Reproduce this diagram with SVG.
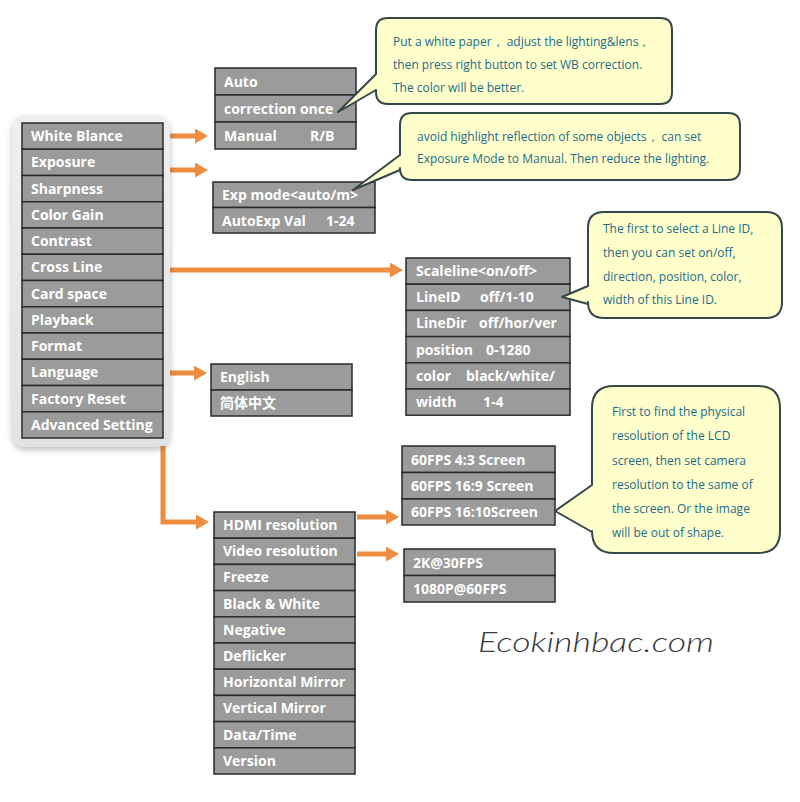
<svg xmlns="http://www.w3.org/2000/svg" width="800" height="802" viewBox="0 0 800 802">
<defs>
<style>
.cell{fill:#9b9b9b;stroke:#2a2a2a;stroke-width:1.5}
.lbl{font-family:"Open Sans","Noto Sans",sans-serif;font-weight:bold;font-size:14px;fill:#ffffff}
.call{fill:#ffffcc;stroke:#34474a;stroke-width:2;stroke-linejoin:round}
.ct{font-family:"Open Sans","Noto Sans",sans-serif;font-size:12px;fill:#1d6b8a}
.arr{fill:none;stroke:#ee8c3f;stroke-width:5;marker-end:url(#ah)}
</style>
<marker id="ah" markerUnits="userSpaceOnUse" markerWidth="13" markerHeight="15" refX="0" refY="7.5" orient="auto">
<path d="M0,0 L13,7.5 L0,15 Z" fill="#ee8c3f"/>
</marker>
<filter id="sh" x="-20%" y="-20%" width="140%" height="140%">
<feGaussianBlur in="SourceAlpha" stdDeviation="3"/>
<feOffset dx="0" dy="3" result="b"/>
<feFlood flood-color="#000" flood-opacity="0.25"/>
<feComposite in2="b" operator="in"/>
<feMerge><feMergeNode/><feMergeNode in="SourceGraphic"/></feMerge>
</filter>
<linearGradient id="pg" x1="0" y1="0" x2="0" y2="1">
<stop offset="0" stop-color="#efefef"/>
<stop offset="1" stop-color="#e2e2e2"/>
</linearGradient>
</defs>
<rect width="800" height="802" fill="#ffffff"/>

<g id="connectors">
<path class="arr" d="M164,136 H195"/>
<path class="arr" d="M164,170 H195"/>
<path class="arr" d="M164,270 H390"/>
<path class="arr" d="M164,373 H194"/>
<path class="arr" d="M163,446 V522 H196"/>
<path class="arr" d="M357,517 H386"/>
<path class="arr" d="M357,554 H386"/>
</g>

<g id="main-menu">
<rect x="12" y="115" width="158" height="332" rx="14" fill="url(#pg)" filter="url(#sh)"/>
<rect class="cell" x="22" y="123" width="141" height="26.25"/>
<rect class="cell" x="22" y="149.25" width="141" height="26.25"/>
<rect class="cell" x="22" y="175.5" width="141" height="26.25"/>
<rect class="cell" x="22" y="201.75" width="141" height="26.25"/>
<rect class="cell" x="22" y="228" width="141" height="26.25"/>
<rect class="cell" x="22" y="254.25" width="141" height="26.25"/>
<rect class="cell" x="22" y="280.5" width="141" height="26.25"/>
<rect class="cell" x="22" y="306.75" width="141" height="26.25"/>
<rect class="cell" x="22" y="333" width="141" height="26.25"/>
<rect class="cell" x="22" y="359.25" width="141" height="26.25"/>
<rect class="cell" x="22" y="385.5" width="141" height="26.25"/>
<rect class="cell" x="22" y="411.75" width="141" height="26.25"/>
<text class="lbl" x="31" y="141">White Blance</text>
<text class="lbl" x="31" y="167.25">Exposure</text>
<text class="lbl" x="31" y="193.5">Sharpness</text>
<text class="lbl" x="31" y="219.75">Color Gain</text>
<text class="lbl" x="31" y="246">Contrast</text>
<text class="lbl" x="31" y="272.25">Cross Line</text>
<text class="lbl" x="31" y="298.5">Card space</text>
<text class="lbl" x="31" y="324.75">Playback</text>
<text class="lbl" x="31" y="351">Format</text>
<text class="lbl" x="31" y="377.25">Language</text>
<text class="lbl" x="31" y="403.5">Factory Reset</text>
<text class="lbl" x="31" y="429.75">Advanced Setting</text>
</g>

<g id="wb-menu">
<rect class="cell" x="215" y="68" width="141" height="27"/>
<rect class="cell" x="215" y="95" width="141" height="27"/>
<rect class="cell" x="215" y="122" width="141" height="27"/>
<text class="lbl" x="224" y="87">Auto</text>
<text class="lbl" x="224" y="114">correction once</text>
<text class="lbl" x="224" y="141">Manual<tspan x="310">R/B</tspan></text>
</g>

<g id="exp-menu">
<rect class="cell" x="213" y="182" width="162" height="25.5"/>
<rect class="cell" x="213" y="207.5" width="162" height="25.5"/>
<text class="lbl" x="222" y="200">Exp mode&lt;auto/m&gt;</text>
<text class="lbl" x="222" y="225.5">AutoExp Val<tspan x="326">1-24</tspan></text>
</g>

<g id="crossline-menu">
<rect class="cell" x="406" y="258" width="164" height="26.2"/>
<rect class="cell" x="406" y="284.2" width="164" height="26.2"/>
<rect class="cell" x="406" y="310.4" width="164" height="26.2"/>
<rect class="cell" x="406" y="336.6" width="164" height="26.2"/>
<rect class="cell" x="406" y="362.8" width="164" height="26.2"/>
<rect class="cell" x="406" y="389" width="164" height="26.2"/>
<text class="lbl" x="416" y="276">Scaleline&lt;on/off&gt;</text>
<text class="lbl" x="416" y="302.2">LineID<tspan x="480">off/1-10</tspan></text>
<text class="lbl" x="416" y="328.4">LineDir<tspan x="479">off/hor/ver</tspan></text>
<text class="lbl" x="416" y="354.6">position<tspan x="486">0-1280</tspan></text>
<text class="lbl" x="416" y="380.8">color<tspan x="466">black/white/</tspan></text>
<text class="lbl" x="416" y="407">width<tspan x="483">1-4</tspan></text>
</g>

<g id="language-menu">
<rect class="cell" x="211" y="364" width="141" height="26"/>
<rect class="cell" x="211" y="390" width="141" height="26"/>
<text class="lbl" x="220" y="382">English</text>
<text class="lbl" x="220" y="408" style="font-family:'Noto Sans CJK SC',sans-serif">简体中文</text>
</g>

<g id="advanced-menu">
<rect class="cell" x="214" y="512" width="141" height="26.2"/>
<rect class="cell" x="214" y="538.2" width="141" height="26.2"/>
<rect class="cell" x="214" y="564.4" width="141" height="26.2"/>
<rect class="cell" x="214" y="590.6" width="141" height="26.2"/>
<rect class="cell" x="214" y="616.8" width="141" height="26.2"/>
<rect class="cell" x="214" y="643" width="141" height="26.2"/>
<rect class="cell" x="214" y="669.2" width="141" height="26.2"/>
<rect class="cell" x="214" y="695.4" width="141" height="26.2"/>
<rect class="cell" x="214" y="721.6" width="141" height="26.2"/>
<rect class="cell" x="214" y="747.8" width="141" height="26.2"/>
<text class="lbl" x="223" y="530">HDMI resolution</text>
<text class="lbl" x="223" y="556.2">Video resolution</text>
<text class="lbl" x="223" y="582.4">Freeze</text>
<text class="lbl" x="223" y="608.6">Black &amp; White</text>
<text class="lbl" x="223" y="634.8">Negative</text>
<text class="lbl" x="223" y="661">Deflicker</text>
<text class="lbl" x="223" y="687.2">Horizontal Mirror</text>
<text class="lbl" x="223" y="713.4">Vertical Mirror</text>
<text class="lbl" x="223" y="739.6">Data/Time</text>
<text class="lbl" x="223" y="765.8">Version</text>
</g>

<g id="hdmi-menu">
<rect class="cell" x="402" y="446" width="153" height="26.5"/>
<rect class="cell" x="402" y="472.5" width="153" height="26.5"/>
<rect class="cell" x="402" y="499" width="153" height="26"/>
<text class="lbl" x="411" y="464.5">60FPS 4:3 Screen</text>
<text class="lbl" x="411" y="491">60FPS 16:9 Screen</text>
<text class="lbl" x="411" y="517">60FPS 16:10Screen</text>
</g>

<g id="video-menu">
<rect class="cell" x="404" y="549" width="151" height="26.5"/>
<rect class="cell" x="404" y="575.5" width="151" height="26.5"/>
<text class="lbl" x="413" y="567.5">2K@30FPS</text>
<text class="lbl" x="413" y="594">1080P@60FPS</text>
</g>

<g id="callout-wb">
<path class="call" d="M388,18 H660 Q672,18 672,30 V92 Q672,104 660,104 H388 Q376,104 376,92 V90 L338,112 L376,74 V30 Q376,18 388,18 Z"/>
<text class="ct" x="393" y="46">Put a white paper， adjust the lighting&amp;lens，</text>
<text class="ct" x="393" y="69">then press right button to set WB correction.</text>
<text class="ct" x="393" y="92">The color will be better.</text>
</g>

<g id="callout-exp">
<path class="call" d="M412,113 H728 Q740,113 740,125 V168 Q740,180 728,180 H412 Q400,180 400,168 V170 L353,190 L400,155 V125 Q400,113 412,113 Z"/>
<text class="ct" x="417" y="141">avoid highlight reflection of some objects， can set</text>
<text class="ct" x="417" y="163">Exposure Mode to Manual. Then reduce the lighting.</text>
</g>

<g id="callout-line">
<path class="call" d="M604,212 H766 Q782,212 782,228 V302 Q782,318 766,318 H604 Q588,318 588,302 V304 L562,297 L588,286 V228 Q588,212 604,212 Z"/>
<text class="ct" x="603" y="233">The first to select a Line ID,</text>
<text class="ct" x="603" y="257">then you can set on/off,</text>
<text class="ct" x="603" y="281">direction, position, color,</text>
<text class="ct" x="603" y="304">width of this Line ID.</text>
</g>

<g id="callout-res">
<path class="call" d="M614,386 H758 Q780,386 780,408 V531 Q780,553 758,553 H614 Q592,553 592,531 V532 L555,511 L592,485 V408 Q592,386 614,386 Z"/>
<text class="ct" x="612" y="416">First to find the physical</text>
<text class="ct" x="612" y="440">resolution of the LCD</text>
<text class="ct" x="612" y="465">screen, then set camera</text>
<text class="ct" x="612" y="489">resolution to the same of</text>
<text class="ct" x="612" y="513">the screen. Or the image</text>
<text class="ct" x="612" y="537">will be out of shape.</text>
</g>

<text x="478" y="652" font-family="Lato,'DejaVu Sans',sans-serif" font-style="italic" font-weight="300" font-size="28" fill="#3a3a3a" textLength="236" lengthAdjust="spacingAndGlyphs">Ecokinhbac.com</text>
</svg>
